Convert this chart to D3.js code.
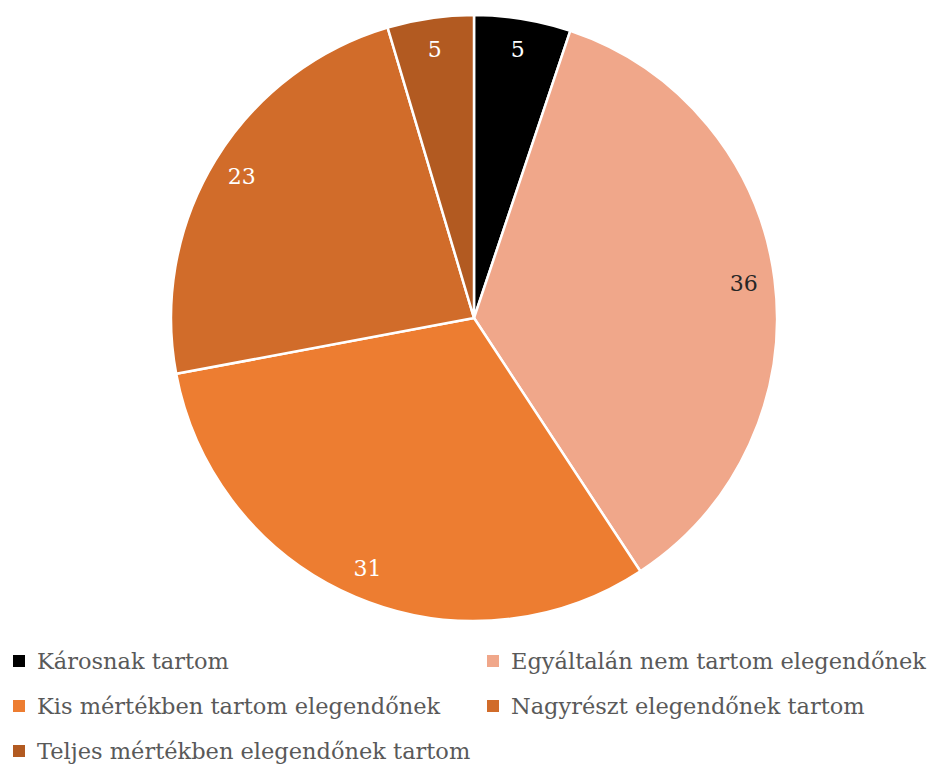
<!DOCTYPE html>
<html><head><meta charset="utf-8">
<script src="https://cdn.jsdelivr.net/npm/d3@7"></script>
<style>body{margin:0;background:#fff}</style>
</head><body>
<svg id="c" width="934" height="765"></svg>
<script>
const categories = ["Károsnak tartom","Egyáltalán nem tartom elegendőnek","Kis mértékben tartom elegendőnek","Nagyrészt elegendőnek tartom","Teljes mértékben elegendőnek tartom"];
const values = [5.15,35.6,31.3,23.35,4.6];
const colors = ["#000000","#F0A78A","#ED7D31","#D16C2A","#B25A21"];
const labelColors = ["#ffffff","#262626","#ffffff","#ffffff","#ffffff"];

const svg = d3.select("#c");
const cx = 474, cy = 318, R = 303;
const g = svg.append("g").attr("transform",`translate(${cx},${cy})`);
const pie = d3.pie().sort(null).value(d=>d);
const arcs = pie(values);
const arc = d3.arc().innerRadius(0).outerRadius(R);
const lab = d3.arc().innerRadius(272).outerRadius(272);
g.selectAll("path").data(arcs).join("path")
 .attr("d",arc).attr("fill",(d,i)=>colors[i]).attr("stroke","#fff").attr("stroke-width",2.5);
g.selectAll("text").data(arcs).join("text")
 .attr("transform",d=>`translate(${lab.centroid(d)})`)
 .attr("text-anchor","middle").attr("dy","0.35em")
 .attr("font-family","'DejaVu Serif', serif").attr("font-size",22)
 .attr("fill",(d,i)=>labelColors[i]).text(d=>Math.round(d.data));

const legPos = [[12,661],[486,661],[12,706],[486,706],[12,751]];
const lg = svg.append("g");
categories.forEach((c,i)=>{
  const [x,y]=legPos[i];
  lg.append("rect").attr("x",x+1).attr("y",y-6).attr("width",12).attr("height",12).attr("fill",colors[i]);
  lg.append("text").attr("x",x+25).attr("y",y).attr("dy","0.35em")
   .attr("font-family","'DejaVu Serif', serif").attr("font-size",22.5).attr("fill","#595959").text(c);
});
</script>
</body></html>
